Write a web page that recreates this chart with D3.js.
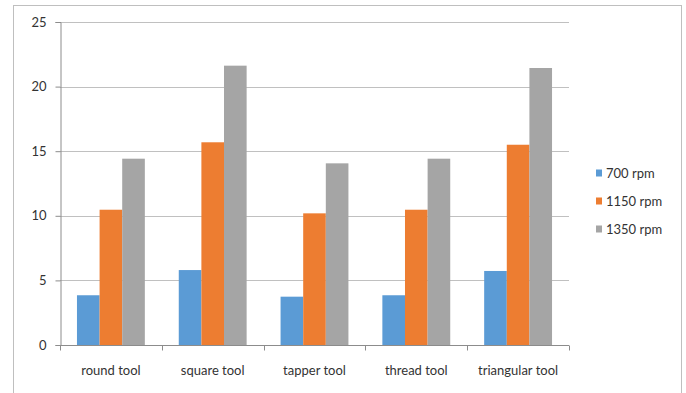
<!DOCTYPE html>
<html>
<head>
<meta charset="utf-8">
<script src="https://cdn.jsdelivr.net/npm/d3@7"></script>
<style>
  html, body { margin: 0; padding: 0; background: #fff; }
  svg { display: block; }
  text { font-family: Lato, "Liberation Sans", sans-serif; fill: #333; }
</style>
</head>
<body>
<svg id="chart" width="686" height="393"></svg>
<script>
// Cutting measurements per tool at three spindle speeds
const categories = ["round tool", "square tool", "tapper tool", "thread tool", "triangular tool"];
const seriesNames = ["700 rpm", "1150 rpm", "1350 rpm"];
const rpm700  = [3.85, 5.8, 3.74, 3.85, 5.73];
const rpm1150 = [10.47, 15.69, 10.19, 10.47, 15.5];
const rpm1350 = [14.42, 21.62, 14.06, 14.42, 21.44];
const yTicks = [0, 5, 10, 15, 20, 25];
const colors = ["#5B9BD5", "#ED7D31", "#A5A5A5"];

const seriesValues = [rpm700, rpm1150, rpm1350];

const svg = d3.select("#chart");

// outer chart frame
svg.append("rect")
  .attr("x", 13.5).attr("y", 5.5)
  .attr("width", 668).attr("height", 400)
  .attr("fill", "#fff").attr("stroke", "#bfbfbf").attr("stroke-width", 1);

const plot = { left: 60, right: 569, top: 22, bottom: 345 };

const y = d3.scaleLinear().domain([0, 25]).range([plot.bottom, plot.top]);
const x0 = d3.scaleBand().domain(categories).range([plot.left, plot.right])
  .paddingInner(0).paddingOuter(0);
// gap between groups is 150% of a bar width
const x1 = d3.scaleBand().domain(seriesNames).range([0, x0.bandwidth()])
  .paddingInner(0).paddingOuter(0.75);

// horizontal gridlines
svg.append("g")
  .selectAll("line")
  .data(yTicks.filter(d => d > 0))
  .join("line")
  .attr("x1", plot.left).attr("x2", plot.right)
  .attr("y1", d => Math.round(y(d)) + 0.5).attr("y2", d => Math.round(y(d)) + 0.5)
  .attr("stroke", "#c0c0c0").attr("stroke-width", 1);

// bars
const groups = svg.append("g")
  .selectAll("g")
  .data(categories)
  .join("g")
  .attr("transform", d => `translate(${x0(d)},0)`);

groups.selectAll("rect")
  .data((d, i) => seriesNames.map((s, j) => ({ s, j, v: seriesValues[j][i] })))
  .join("rect")
  .attr("x", d => x1(d.s))
  .attr("width", x1.bandwidth())
  .attr("y", d => y(d.v))
  .attr("height", d => y(0) - y(d.v))
  .attr("fill", d => colors[d.j]);

// y axis
const yAxis = d3.axisLeft(y).tickValues(yTicks).tickSize(5).tickPadding(9);
const gy = svg.append("g")
  .attr("transform", `translate(${plot.left + 0.5},0)`)
  .call(yAxis);
gy.select(".domain").attr("stroke", "#8c8c8c");
gy.selectAll(".tick line").attr("stroke", "#8c8c8c");
gy.selectAll(".tick text")
  .style("font-size", "13px").attr("fill", "#333");

// x axis with ticks at category boundaries
const xAxisG = svg.append("g").attr("transform", `translate(0,${plot.bottom + 0.5})`);
xAxisG.append("line")
  .attr("x1", plot.left).attr("x2", plot.right)
  .attr("stroke", "#8c8c8c");
const boundaries = categories.map(c => x0(c)).concat([plot.right]);
xAxisG.selectAll("line.tick")
  .data(boundaries)
  .join("line")
  .attr("class", "tick")
  .attr("x1", d => Math.round(d) + 0.5).attr("x2", d => Math.round(d) + 0.5)
  .attr("y1", 0).attr("y2", 5)
  .attr("stroke", "#8c8c8c");
xAxisG.selectAll("text")
  .data(categories)
  .join("text")
  .attr("x", d => x0(d) + x0.bandwidth() / 2)
  .attr("y", 29)
  .attr("text-anchor", "middle")
  .style("font-size", "13px")
  .text(d => d);

// legend
const legend = svg.append("g").attr("transform", "translate(596,173)");
const items = legend.selectAll("g")
  .data(seriesNames)
  .join("g")
  .attr("transform", (d, i) => `translate(0,${i * 28})`);
items.append("rect")
  .attr("x", 0).attr("y", -3.5)
  .attr("width", 6).attr("height", 7)
  .attr("fill", (d, i) => colors[i]);
items.append("text")
  .attr("x", 10).attr("y", 0)
  .attr("dy", "0.35em")
  .style("font-size", "13px")
  .text(d => d);
</script>
</body>
</html>
